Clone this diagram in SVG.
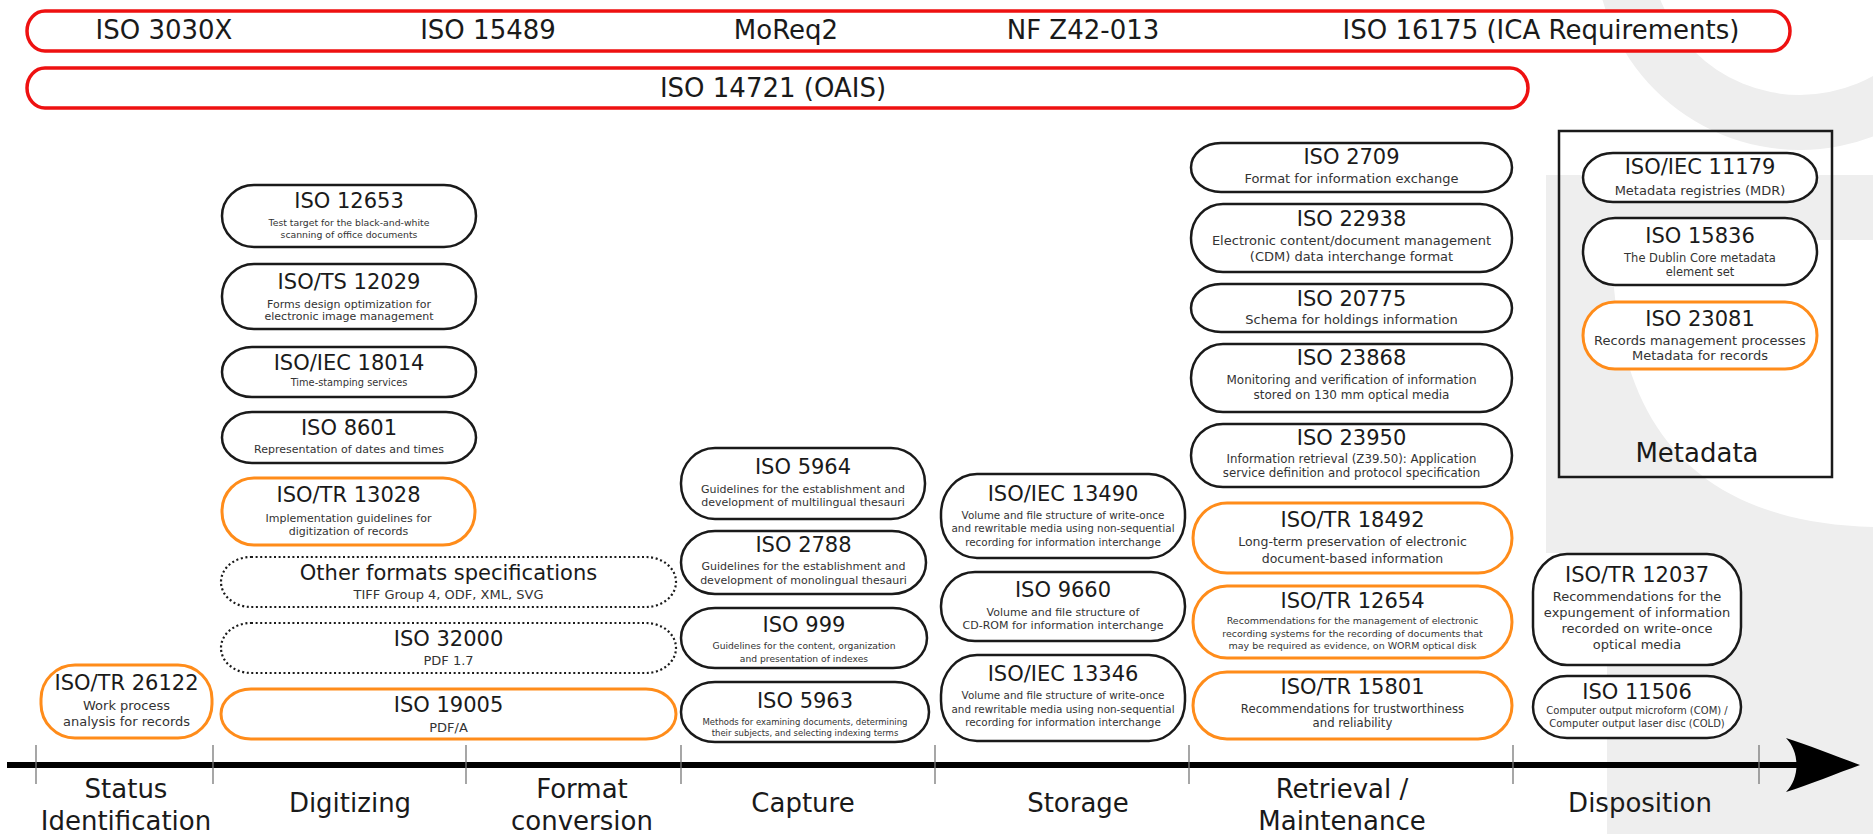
<svg xmlns="http://www.w3.org/2000/svg" width="1873" height="834" viewBox="0 0 1873 834">
<style>
text{font-family:"DejaVu Sans","Liberation Sans",sans-serif;text-anchor:middle;fill:#1a1a1a}
.wm{fill:#eeeeee}
.band{fill:#fff;stroke:#ee1111;stroke-width:3.5}
.bt{font-size:26px}
.n{fill:#fff;stroke:#1a1a1a;stroke-width:2.5}
.o{fill:#fff;stroke:#ff8c1a;stroke-width:3}
.d{fill:#fff;stroke:#1a1a1a;stroke-width:2.2;stroke-dasharray:2 2.6}
.t{font-size:21px}
.s{fill:#333}
.lab{font-size:26px}
.tick{stroke:#777;stroke-width:1.3}
.box{fill:none;stroke:#1a1a1a;stroke-width:2.5}
</style>
<defs>
<marker id="ah" viewBox="0 0 10 10" refX="0" refY="5" markerWidth="10" markerHeight="10" orient="auto"/>
</defs>
<rect width="1873" height="834" fill="#fff"/>
<g id="watermark">
<path class="wm" fill-rule="evenodd" d="M1595,-55 a205,205 0 1,0 410,0 a205,205 0 1,0 -410,0 Z M1650,-55 a150,150 0 1,0 300,0 a150,150 0 1,0 -300,0 Z"/>
<path class="wm" d="M1546,175 H1873 V240 H1612 C1612,420 1690,522 1873,527 V834 H1607 V553 H1546 Z"/>
</g>
<g id="band-records">
<rect class="band" x="27" y="11" width="1763" height="40" rx="18" ry="20"/>
<text class="bt" x="164" y="39">ISO 3030X</text>
<text class="bt" x="488" y="39">ISO 15489</text>
<text class="bt" x="786" y="39">MoReq2</text>
<text class="bt" x="1083" y="39">NF Z42-013</text>
<text class="bt" x="1541" y="39">ISO 16175 (ICA Requirements)</text>
</g>
<g id="band-oais">
<rect class="band" x="27" y="68" width="1501" height="40" rx="18" ry="20"/>
<text class="bt" x="773" y="97">ISO 14721 (OAIS)</text>
</g>
<g id="timeline">
<line x1="7" y1="765" x2="1800" y2="765" stroke="#000" stroke-width="6"/>
<path d="M1860,765 C1838,757 1808,745 1786,738 C1800,752 1800,778 1786,792 C1808,785 1838,773 1860,765 Z" fill="#000"/>
<line class="tick" x1="36" y1="745" x2="36" y2="784"/>
<line class="tick" x1="213" y1="745" x2="213" y2="784"/>
<line class="tick" x1="466" y1="745" x2="466" y2="784"/>
<line class="tick" x1="681" y1="745" x2="681" y2="784"/>
<line class="tick" x1="935" y1="745" x2="935" y2="784"/>
<line class="tick" x1="1189" y1="745" x2="1189" y2="784"/>
<line class="tick" x1="1513" y1="745" x2="1513" y2="784"/>
<line class="tick" x1="1759" y1="745" x2="1759" y2="784"/>
</g>
<g id="phase-labels">
<text class="lab" x="126" y="798">Status</text>
<text class="lab" x="126" y="830">Identification</text>
<text class="lab" x="350" y="812">Digitizing</text>
<text class="lab" x="582" y="798">Format</text>
<text class="lab" x="582" y="830">conversion</text>
<text class="lab" x="803" y="812">Capture</text>
<text class="lab" x="1078" y="812">Storage</text>
<text class="lab" x="1342" y="798">Retrieval /</text>
<text class="lab" x="1342" y="830">Maintenance</text>
<text class="lab" x="1640" y="812">Disposition</text>
</g>
<g id="iso-tr-26122">
<rect class="o" x="41" y="665" width="171" height="73" rx="34" ry="34"/>
<text class="t" x="126.5" y="690">ISO/TR 26122</text>
<text class="s" x="126.5" y="710" font-size="13">Work process</text>
<text class="s" x="126.5" y="726" font-size="13">analysis for records</text>
</g>
<g id="iso-12653">
<rect class="n" x="222" y="185" width="254" height="62" rx="32" ry="31"/>
<text class="t" x="349" y="208">ISO 12653</text>
<text class="s" x="349" y="226" font-size="9.3">Test target for the black-and-white</text>
<text class="s" x="349" y="238" font-size="9.3">scanning of office documents</text>
</g>
<g id="iso-ts-12029">
<rect class="n" x="222" y="264" width="254" height="65" rx="32" ry="32"/>
<text class="t" x="349" y="289">ISO/TS 12029</text>
<text class="s" x="349" y="308" font-size="11">Forms design optimization for</text>
<text class="s" x="349" y="320" font-size="11">electronic image management</text>
</g>
<g id="iso-iec-18014">
<rect class="n" x="222" y="347" width="254" height="50" rx="30" ry="25"/>
<text class="t" x="349" y="370">ISO/IEC 18014</text>
<text class="s" x="349" y="386" font-size="9.8">Time-stamping services</text>
</g>
<g id="iso-8601">
<rect class="n" x="222" y="412" width="254" height="51" rx="30" ry="25.5"/>
<text class="t" x="349" y="435">ISO 8601</text>
<text class="s" x="349" y="453" font-size="11">Representation of dates and times</text>
</g>
<g id="iso-tr-13028">
<rect class="o" x="222" y="478" width="253" height="67" rx="32" ry="33"/>
<text class="t" x="348.5" y="502">ISO/TR 13028</text>
<text class="s" x="348.5" y="522" font-size="11">Implementation guidelines for</text>
<text class="s" x="348.5" y="535" font-size="11">digitization of records</text>
</g>
<g id="other-formats">
<rect class="d" x="221" y="557" width="455" height="50" rx="30" ry="25"/>
<text class="t" x="448.5" y="580">Other formats specifications</text>
<text class="s" x="448.5" y="599" font-size="13">TIFF Group 4, ODF, XML, SVG</text>
</g>
<g id="iso-32000">
<rect class="d" x="221" y="623" width="455" height="50" rx="30" ry="25"/>
<text class="t" x="448.5" y="646">ISO 32000</text>
<text class="s" x="448.5" y="665" font-size="13">PDF 1.7</text>
</g>
<g id="iso-19005">
<rect class="o" x="221" y="689" width="455" height="50" rx="30" ry="25"/>
<text class="t" x="448.5" y="712">ISO 19005</text>
<text class="s" x="448.5" y="732" font-size="13">PDF/A</text>
</g>
<g id="iso-5964">
<rect class="n" x="681" y="448" width="244" height="71" rx="34" ry="35"/>
<text class="t" x="803" y="474">ISO 5964</text>
<text class="s" x="803" y="493" font-size="11">Guidelines for the establishment and</text>
<text class="s" x="803" y="506" font-size="11">development of multilingual thesauri</text>
</g>
<g id="iso-2788">
<rect class="n" x="681" y="531" width="245" height="63" rx="34" ry="31.5"/>
<text class="t" x="803.5" y="552">ISO 2788</text>
<text class="s" x="803.5" y="570" font-size="11">Guidelines for the establishment and</text>
<text class="s" x="803.5" y="584" font-size="11">development of monolingual thesauri</text>
</g>
<g id="iso-999">
<rect class="n" x="681" y="608" width="246" height="60" rx="34" ry="30"/>
<text class="t" x="804" y="632">ISO 999</text>
<text class="s" x="804" y="649" font-size="9.2">Guidelines for the content, organization</text>
<text class="s" x="804" y="662" font-size="9.2">and presentation of indexes</text>
</g>
<g id="iso-5963">
<rect class="n" x="681" y="682" width="248" height="60" rx="34" ry="30"/>
<text class="t" x="805" y="708">ISO 5963</text>
<text class="s" x="805" y="725" font-size="8.5">Methods for examining documents, determining</text>
<text class="s" x="805" y="736" font-size="8.5">their subjects, and selecting indexing terms</text>
</g>
<g id="iso-iec-13490">
<rect class="n" x="941" y="474" width="244" height="84" rx="36" ry="40"/>
<text class="t" x="1063" y="501">ISO/IEC 13490</text>
<text class="s" x="1063" y="519" font-size="10.4">Volume and file structure of write-once</text>
<text class="s" x="1063" y="532" font-size="10.4">and rewritable media using non-sequential</text>
<text class="s" x="1063" y="546" font-size="10.4">recording for information interchange</text>
</g>
<g id="iso-9660">
<rect class="n" x="941" y="572" width="244" height="69" rx="34" ry="34"/>
<text class="t" x="1063" y="597">ISO 9660</text>
<text class="s" x="1063" y="616" font-size="11">Volume and file structure of</text>
<text class="s" x="1063" y="629" font-size="11">CD-ROM for information interchange</text>
</g>
<g id="iso-iec-13346">
<rect class="n" x="941" y="655" width="244" height="86" rx="36" ry="40"/>
<text class="t" x="1063" y="681">ISO/IEC 13346</text>
<text class="s" x="1063" y="699" font-size="10.4">Volume and file structure of write-once</text>
<text class="s" x="1063" y="713" font-size="10.4">and rewritable media using non-sequential</text>
<text class="s" x="1063" y="726" font-size="10.4">recording for information interchange</text>
</g>
<g id="iso-2709">
<rect class="n" x="1191" y="143" width="321" height="49" rx="30" ry="24.5"/>
<text class="t" x="1351.5" y="164">ISO 2709</text>
<text class="s" x="1351.5" y="183" font-size="13">Format for information exchange</text>
</g>
<g id="iso-22938">
<rect class="n" x="1191" y="204" width="321" height="68" rx="32" ry="34"/>
<text class="t" x="1351.5" y="226">ISO 22938</text>
<text class="s" x="1351.5" y="245" font-size="13">Electronic content/document management</text>
<text class="s" x="1351.5" y="261" font-size="13">(CDM) data interchange format</text>
</g>
<g id="iso-20775">
<rect class="n" x="1191" y="284" width="321" height="48" rx="30" ry="24"/>
<text class="t" x="1351.5" y="306">ISO 20775</text>
<text class="s" x="1351.5" y="324" font-size="13">Schema for holdings information</text>
</g>
<g id="iso-23868">
<rect class="n" x="1191" y="344" width="321" height="68" rx="32" ry="34"/>
<text class="t" x="1351.5" y="365">ISO 23868</text>
<text class="s" x="1351.5" y="384" font-size="12">Monitoring and verification of information</text>
<text class="s" x="1351.5" y="399" font-size="12">stored on 130 mm optical media</text>
</g>
<g id="iso-23950">
<rect class="n" x="1191" y="424" width="321" height="63" rx="32" ry="31.5"/>
<text class="t" x="1351.5" y="445">ISO 23950</text>
<text class="s" x="1351.5" y="463" font-size="11.8">Information retrieval (Z39.50): Application</text>
<text class="s" x="1351.5" y="477" font-size="11.8">service definition and protocol specification</text>
</g>
<g id="iso-tr-18492">
<rect class="o" x="1193" y="503" width="319" height="70" rx="34" ry="35"/>
<text class="t" x="1352.5" y="527">ISO/TR 18492</text>
<text class="s" x="1352.5" y="546" font-size="12.5">Long-term preservation of electronic</text>
<text class="s" x="1352.5" y="563" font-size="12.5">document-based information</text>
</g>
<g id="iso-tr-12654">
<rect class="o" x="1193" y="586" width="319" height="72" rx="34" ry="36"/>
<text class="t" x="1352.5" y="608">ISO/TR 12654</text>
<text class="s" x="1352.5" y="624" font-size="9.5">Recommendations for the management of electronic</text>
<text class="s" x="1352.5" y="637" font-size="9.5">recording systems for the recording of documents that</text>
<text class="s" x="1352.5" y="649" font-size="9.5">may be required as evidence, on WORM optical disk</text>
</g>
<g id="iso-tr-15801">
<rect class="o" x="1193" y="672" width="319" height="67" rx="34" ry="33.5"/>
<text class="t" x="1352.5" y="694">ISO/TR 15801</text>
<text class="s" x="1352.5" y="713" font-size="11.7">Recommendations for trustworthiness</text>
<text class="s" x="1352.5" y="727" font-size="11.7">and reliability</text>
</g>
<g id="metadata">
<rect class="box" x="1559" y="131" width="273" height="346"/>
<text class="lab" x="1697" y="462">Metadata</text>
</g>
<g id="iso-iec-11179">
<rect class="n" x="1583" y="153" width="234" height="49" rx="30" ry="24.5"/>
<text class="t" x="1700" y="174">ISO/IEC 11179</text>
<text class="s" x="1700" y="195" font-size="13">Metadata registries (MDR)</text>
</g>
<g id="iso-15836">
<rect class="n" x="1583" y="218" width="234" height="67" rx="32" ry="33.5"/>
<text class="t" x="1700" y="243">ISO 15836</text>
<text class="s" x="1700" y="262" font-size="11.5">The Dublin Core metadata</text>
<text class="s" x="1700" y="276" font-size="11.5">element set</text>
</g>
<g id="iso-23081">
<rect class="o" x="1583" y="302" width="234" height="67" rx="32" ry="33.5"/>
<text class="t" x="1700" y="326">ISO 23081</text>
<text class="s" x="1700" y="345" font-size="13">Records management processes</text>
<text class="s" x="1700" y="360" font-size="13">Metadata for records</text>
</g>
<g id="iso-tr-12037">
<rect class="n" x="1533" y="554" width="208" height="111" rx="34" ry="38"/>
<text class="t" x="1637" y="582">ISO/TR 12037</text>
<text class="s" x="1637" y="601" font-size="13">Recommendations for the</text>
<text class="s" x="1637" y="617" font-size="13">expungement of information</text>
<text class="s" x="1637" y="633" font-size="13">recorded on write-once</text>
<text class="s" x="1637" y="649" font-size="13">optical media</text>
</g>
<g id="iso-11506">
<rect class="n" x="1533" y="676" width="208" height="62" rx="34" ry="31"/>
<text class="t" x="1637" y="699">ISO 11506</text>
<text class="s" x="1637" y="714" font-size="10">Computer output microform (COM) /</text>
<text class="s" x="1637" y="727" font-size="10">Computer output laser disc (COLD)</text>
</g>
</svg>
